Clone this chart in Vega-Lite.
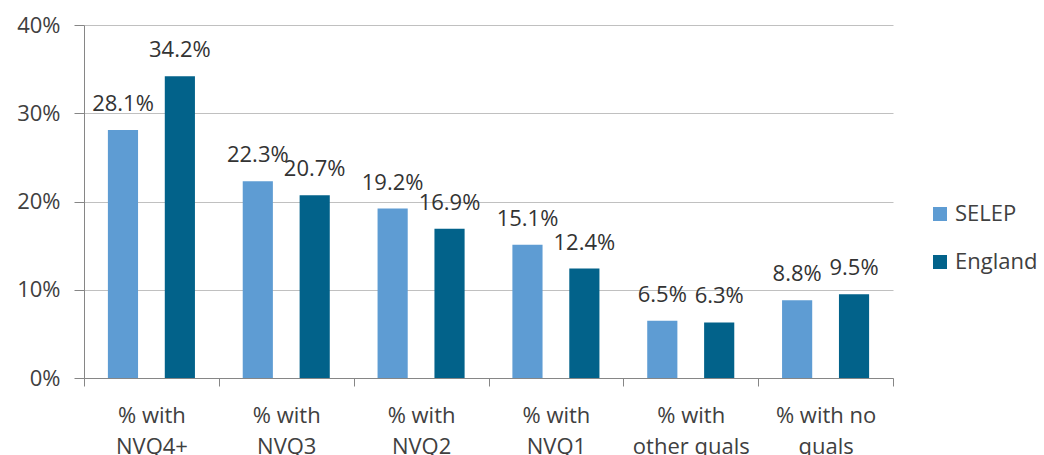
{
  "$schema": "https://vega.github.io/schema/vega-lite/v6.json",
  "autosize": "none",
  "width": 809,
  "height": 353,
  "padding": {"left": 84, "top": 25, "right": 151, "bottom": 77},
  "background": "white",
  "config": {
    "view": {"stroke": null},
    "font": "Open Sans",
    "axis": {"labelFont": "Open Sans", "labelFontSize": 22, "labelColor": "#404040"},
    "legend": {"labelFont": "Open Sans", "labelFontSize": 22, "labelColor": "#404040"}
  },
  "data": {
    "values": [
      {"cat": "% with|NVQ4+", "area": "SELEP", "value": 0.281},
      {"cat": "% with|NVQ4+", "area": "England", "value": 0.342},
      {"cat": "% with|NVQ3", "area": "SELEP", "value": 0.223},
      {"cat": "% with|NVQ3", "area": "England", "value": 0.207},
      {"cat": "% with|NVQ2", "area": "SELEP", "value": 0.192},
      {"cat": "% with|NVQ2", "area": "England", "value": 0.169},
      {"cat": "% with|NVQ1", "area": "SELEP", "value": 0.151},
      {"cat": "% with|NVQ1", "area": "England", "value": 0.124},
      {"cat": "% with|other quals", "area": "SELEP", "value": 0.065},
      {"cat": "% with|other quals", "area": "England", "value": 0.063},
      {"cat": "% with no|quals", "area": "SELEP", "value": 0.088},
      {"cat": "% with no|quals", "area": "England", "value": 0.095}
    ]
  },
  "encoding": {
    "x": {
      "field": "cat",
      "type": "nominal",
      "sort": null,
      "scale": {"paddingInner": 0, "paddingOuter": 0},
      "axis": {
        "title": null,
        "labelAngle": 0,
        "labelExpr": "split(datum.label, '|')",
        "labelLineHeight": 31,
        "labelPadding": 36,
        "labelBaseline": "alphabetic",
        "tickBand": "extent",
        "tickSize": 8,
        "tickColor": "#868686",
        "domainColor": "#868686",
        "grid": false
      }
    },
    "xOffset": {
      "field": "area",
      "type": "nominal",
      "sort": ["SELEP", "England"],
      "scale": {"paddingInner": 0.47, "paddingOuter": 0.42}
    },
    "y": {
      "field": "value",
      "type": "quantitative",
      "scale": {"domain": [0, 0.4]},
      "axis": {
        "title": null,
        "format": ".0%",
        "values": [0, 0.1, 0.2, 0.3, 0.4],
        "tickSize": 10,
        "tickColor": "#868686",
        "domainColor": "#868686",
        "gridColor": "#c0c0c0",
        "labelPadding": 14
      }
    }
  },
  "layer": [
    {
      "mark": {"type": "bar"},
      "encoding": {
        "color": {
          "field": "area",
          "type": "nominal",
          "sort": ["SELEP", "England"],
          "scale": {"domain": ["SELEP", "England"], "range": ["#5E9CD3", "#02628A"]},
          "legend": {
            "title": null,
            "orient": "none",
            "legendX": 845,
            "legendY": 178,
            "padding": 0,
            "symbolType": "square",
            "symbolSize": 196,
            "symbolStrokeWidth": 0,
            "rowPadding": 26,
            "labelOffset": 4
          }
        }
      }
    },
    {
      "mark": {"type": "text", "baseline": "alphabetic", "dy": -19, "fontSize": 22, "color": "#333333", "font": "Open Sans"},
      "encoding": {
        "text": {"field": "value", "type": "quantitative", "format": ".1%"}
      }
    }
  ]
}
